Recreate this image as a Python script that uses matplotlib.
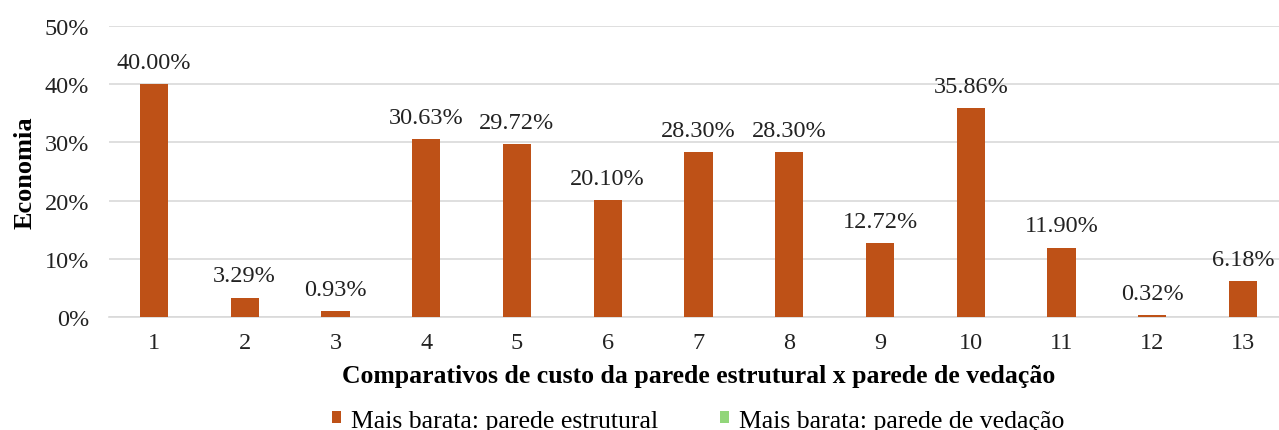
import matplotlib.pyplot as plt
from matplotlib.ticker import PercentFormatter

# Dados do gráfico
comparativos = list(range(1, 14))
estrutural = [40.00, 3.29, 0.93, 30.63, 29.72, 20.10, 28.30, 28.30, 12.72, 35.86, 11.90, 0.32, 6.18]
vedacao = [0] * 13
rotulos = ["40.00%", "3.29%", "0.93%", "30.63%", "29.72%", "20.10%", "28.30%",
           "28.30%", "12.72%", "35.86%", "11.90%", "0.32%", "6.18%"]

plt.rcParams['font.family'] = ['Liberation Serif', 'DejaVu Serif']

fig = plt.figure(figsize=(12.79, 4.31), dpi=100)
ax = fig.add_axes([108.6 / 1279, 0.2629, (1288.4 - 108.6) / 1279, 0.6738])

cor_estr = '#BE5117'
cor_ved = '#92D67A'

ax.bar(comparativos, estrutural, width=0.31, color=cor_estr,
       label='Mais barata: parede estrutural', zorder=3)
ax.bar(comparativos, vedacao, width=0.31, color=cor_ved,
       label='Mais barata: parede de vedação', zorder=3)

# Rótulos de dados acima de cada barra
for x, v, t in zip(comparativos, estrutural, rotulos):
    ax.annotate(t, (x, v), xytext=(0, 8), textcoords='offset points',
                ha='center', va='bottom', fontsize=17.5, color='#222222')

ax.set_xlim(0.5, 13.5)
ax.set_ylim(0, 50)
ax.set_yticks([0, 10, 20, 30, 40, 50])
ax.yaxis.set_major_formatter(PercentFormatter(decimals=0))
ax.set_xticks(comparativos)
ax.tick_params(axis='both', length=0, labelsize=17.5, colors='#222222')
ax.tick_params(axis='x', pad=11)
ax.tick_params(axis='y', pad=14)

ax.grid(axis='y', color='#D9D9D9', linewidth=1.2, zorder=0)
for s in ['top', 'right', 'left']:
    ax.spines[s].set_visible(False)
ax.spines['bottom'].set_color('#D9D9D9')
ax.spines['bottom'].set_linewidth(1.2)

ax.set_ylabel('Economia', fontsize=19, fontweight='bold', labelpad=6)
ax.set_xlabel('Comparativos de custo da parede estrutural x parede de vedação',
              fontsize=18.5, fontweight='bold', labelpad=8)

fig.legend(loc='center', bbox_to_anchor=(0.546, 0.022), ncol=2, frameon=False,
           fontsize=18.5, handlelength=0.35, handleheight=0.35, columnspacing=2.4,
           handletextpad=0.4, borderpad=0)

fig.savefig('out.png', dpi=100)
